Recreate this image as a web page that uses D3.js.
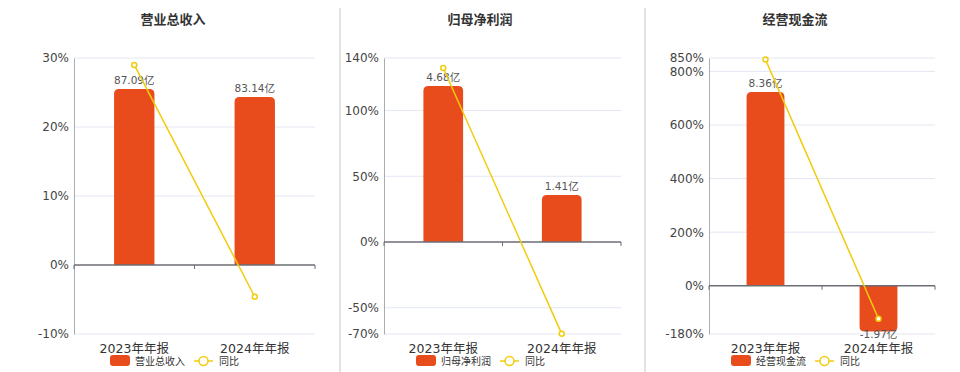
<!DOCTYPE html>
<html>
<head>
<meta charset="utf-8">
<script src="https://cdn.jsdelivr.net/npm/d3@7"></script>
<style>
  body { margin: 0; background: #fff; }
  svg { display: block; font-family: "DejaVu Sans", "Noto Sans CJK SC", sans-serif; }
</style>
</head>
<body>
<div id="chart"></div>
<script>
// data
const categories = ["2023年年报", "2024年年报"];
const titles = ["营业总收入", "归母净利润", "经营现金流"];
const barValues = [[87.09, 83.14], [4.68, 1.41], [8.36, -1.97]];
const barLabels = [["87.09亿", "83.14亿"], ["4.68亿", "1.41亿"], ["8.36亿", "-1.97亿"]];
const yoyValues = [[29.0, -4.6], [132.4, -69.9], [844, -123]];
const tickValues = [[30, 20, 10, 0, -10], [140, 100, 50, 0, -50, -70], [850, 800, 600, 400, 200, 0, -180]];
// hidden bar axis maximum (aligned with the % axis at zero)
const barAxisMax = [102.4, 5.52, 9.83];

const W = 960, H = 372;
const layout = [
  {left: 74, right: 315, titleX: 173, legendX: 110},
  {left: 384, right: 621, titleX: 480, legendX: 416},
  {left: 709, right: 935, titleX: 795, legendX: 731}
];
const plotTop = 58, plotBottom = 334;
const barColor = "#e84c1d", lineColor = "#f2cc0c";

const svg = d3.select("#chart").append("svg")
  .attr("width", W).attr("height", H);

// separators
[340, 645].forEach(x => {
  svg.append("line")
    .attr("x1", x).attr("x2", x).attr("y1", 8).attr("y2", H)
    .attr("stroke", "#d9d9d9").attr("stroke-width", 1.5);
});

titles.forEach((title, i) => {
  const L = layout[i];
  const g = svg.append("g");
  const ticks = tickValues[i];
  const yMin = d3.min(ticks), yMax = d3.max(ticks);

  const y = d3.scaleLinear().domain([yMin, yMax]).range([plotBottom, plotTop]);
  const yBar = d3.scaleLinear()
    .domain([barAxisMax[i] * yMin / yMax, barAxisMax[i]])
    .range([plotBottom, plotTop]);
  const x = d3.scalePoint().domain(categories).range([L.left, L.right]).padding(0.5);
  const step = x.step();
  const bw = step * 0.335;

  g.append("text")
    .attr("x", L.titleX).attr("y", 24)
    .attr("text-anchor", "middle")
    .attr("font-size", 13).attr("font-weight", "bold")
    .attr("fill", "#333")
    .text(title);

  // grid
  g.selectAll(".grid").data(ticks.filter(t => t !== 0)).enter()
    .append("line")
    .attr("x1", L.left).attr("x2", L.right)
    .attr("y1", d => y(d)).attr("y2", d => y(d))
    .attr("stroke", "#e3e7f3").attr("stroke-width", 1);

  // y axis
  const yAxis = g.append("g")
    .attr("transform", `translate(${L.left},0)`)
    .call(d3.axisLeft(y).tickValues(ticks).tickSize(0).tickPadding(5).tickFormat(d => d + "%"));
  yAxis.select(".domain").attr("stroke", "#a8adb8");
  yAxis.selectAll("text").attr("font-size", 12).attr("fill", "#444")
    .attr("font-family", "DejaVu Sans, sans-serif");

  // bars
  g.selectAll(".bar").data(barValues[i]).enter()
    .append("path")
    .attr("fill", barColor)
    .attr("d", (d, j) => {
      const cx = x(categories[j]);
      const x0 = cx - bw / 2, x1 = cx + bw / 2;
      const y0 = yBar(0), y1 = yBar(d);
      const r = 5;
      if (d >= 0) {
        return `M${x0},${y0}V${y1 + r}Q${x0},${y1} ${x0 + r},${y1}H${x1 - r}Q${x1},${y1} ${x1},${y1 + r}V${y0}Z`;
      }
      return `M${x0},${y0}V${y1 - r}Q${x0},${y1} ${x0 + r},${y1}H${x1 - r}Q${x1},${y1} ${x1},${y1 - r}V${y0}Z`;
    });

  // zero line / x axis
  const xAxisG = g.append("g");
  xAxisG.append("line")
    .attr("x1", L.left).attr("x2", L.right)
    .attr("y1", y(0)).attr("y2", y(0))
    .attr("stroke", "#6b6e75").attr("stroke-width", 1.5);
  [L.left, L.left + step, L.right].forEach(tx => {
    xAxisG.append("line")
      .attr("x1", tx).attr("x2", tx)
      .attr("y1", y(0)).attr("y2", y(0) + 4)
      .attr("stroke", "#6b6e75").attr("stroke-width", 1);
  });

  // category labels
  g.selectAll(".cat").data(categories).enter()
    .append("text")
    .attr("x", d => x(d)).attr("y", 353)
    .attr("text-anchor", "middle")
    .attr("font-size", 12.5).attr("fill", "#333")
    .text(d => d);

  // bar labels
  g.selectAll(".blab").data(barValues[i]).enter()
    .append("text")
    .attr("x", (d, j) => x(categories[j]))
    .attr("y", d => d >= 0 ? yBar(d) - 5 : yBar(d) + 7)
    .attr("text-anchor", "middle")
    .attr("font-size", 10.5).attr("fill", "#555")
    .text((d, j) => barLabels[i][j]);

  // yoy line
  const pts = yoyValues[i].map((v, j) => [x(categories[j]), y(v)]);
  g.append("path")
    .attr("d", d3.line()(pts))
    .attr("fill", "none").attr("stroke", lineColor).attr("stroke-width", 1.5);
  g.selectAll(".pt").data(pts).enter()
    .append("circle")
    .attr("cx", d => d[0]).attr("cy", d => d[1]).attr("r", 2.5)
    .attr("fill", "#fff").attr("stroke", lineColor).attr("stroke-width", 1.5);

  // legend
  const lg = g.append("g").attr("transform", `translate(${L.legendX},361)`);
  lg.append("rect")
    .attr("x", 0).attr("y", -6).attr("width", 20).attr("height", 11).attr("rx", 3)
    .attr("fill", barColor);
  lg.append("text")
    .attr("x", 25).attr("y", 4)
    .attr("font-size", 10).attr("fill", "#333")
    .text(title);
  lg.append("line")
    .attr("x1", 84).attr("x2", 103).attr("y1", 0).attr("y2", 0)
    .attr("stroke", lineColor).attr("stroke-width", 1.5);
  lg.append("circle")
    .attr("cx", 93.5).attr("cy", 0).attr("r", 4.5)
    .attr("fill", "#fff").attr("stroke", lineColor).attr("stroke-width", 1.5);
  lg.append("text")
    .attr("x", 109).attr("y", 4)
    .attr("font-size", 10).attr("fill", "#333")
    .text("同比");
});
</script>
</body>
</html>
